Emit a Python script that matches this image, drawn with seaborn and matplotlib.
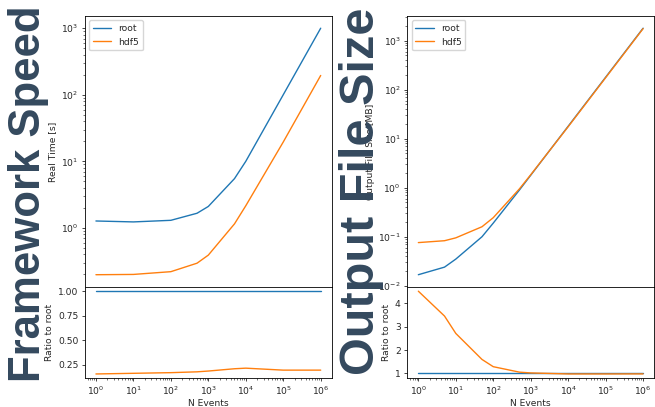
import numpy as np
import pandas as pd
import matplotlib
matplotlib.use("Agg")
import matplotlib.pyplot as plt
import seaborn as sns

# Event counts used for each benchmark
time_events = [1, 10, 100, 500, 1000, 5000, 10000, 100000, 1000000]
size_events = [1, 5, 10, 50, 100, 500, 1000, 10000, 100000, 1000000]

# Real time [s]
time_root = [1.27, 1.23, 1.30, 1.66, 2.1, 5.5, 10.0, 100.0, 1000.0]
time_hdf5 = [0.198, 0.20, 0.22, 0.295, 0.39, 1.15, 2.15, 19.5, 195.0]

# Output file size [MB]
size_root = [0.0168, 0.024, 0.035, 0.10, 0.19, 0.90, 1.80, 18.0, 180.0, 1800.0]
size_hdf5 = [0.076, 0.083, 0.095, 0.16, 0.245, 0.95, 1.84, 17.6, 176.0, 1765.0]

frameworks = ["root", "hdf5"]
titles = ["Framework Speed", "Output File Size"]
ylabels = ["Real Time [s]", "Output File Size [MB]"]


def long_form(events, root, hdf5):
    rows = []
    for n, r, h in zip(events, root, hdf5):
        rows.append({"N Events": n, "value": r, "ratio": 1.0, "framework": "root"})
        rows.append({"N Events": n, "value": h, "ratio": h / r, "framework": "hdf5"})
    return pd.DataFrame(rows)


frames = [long_form(time_events, time_root, time_hdf5),
          long_form(size_events, size_root, size_hdf5)]

sns.set_style("ticks")
plt.rcParams.update({
    "font.size": 6.6,
    "axes.labelsize": 6.6,
    "xtick.labelsize": 6.6,
    "ytick.labelsize": 6.6,
    "legend.fontsize": 6.6,
    "axes.linewidth": 0.6,
    "axes.edgecolor": "black",
    "xtick.major.size": 2.3,
    "ytick.major.size": 2.3,
    "xtick.minor.size": 1.3,
    "ytick.minor.size": 1.3,
    "xtick.major.width": 0.6,
    "ytick.major.width": 0.6,
    "xtick.minor.width": 0.45,
    "ytick.minor.width": 0.45,
    "lines.linewidth": 1.0,
    "axes.labelpad": 2.6,
    "xtick.major.pad": 2.3,
    "ytick.major.pad": 2.3,
})
plt.rcParams["font.family"] = ["DejaVu Sans"]

palette = {"root": "#1f77b4", "hdf5": "#ff7f0e"}

fig = plt.figure(figsize=(6.55, 4.07), dpi=100)
gs = fig.add_gridspec(2, 2, height_ratios=[271, 91], hspace=0, wspace=0.304,
                      left=0.1293, right=0.999, top=0.961, bottom=0.071)

for col, df in enumerate(frames):
    ax_top = fig.add_subplot(gs[0, col])
    ax_bot = fig.add_subplot(gs[1, col], sharex=ax_top)

    sns.lineplot(data=df, x="N Events", y="value", hue="framework",
                 hue_order=frameworks, palette=palette, ax=ax_top)
    ax_top.set_xscale("log")
    ax_top.set_yscale("log")
    ax_top.set_ylabel(ylabels[col])
    ax_top.set_xlabel("")
    ax_top.tick_params(axis="x", which="both", bottom=False, labelbottom=False)
    handles, labels = ax_top.get_legend_handles_labels()
    ax_top.legend(handles, labels, loc="upper left")

    sns.lineplot(data=df, x="N Events", y="ratio", hue="framework",
                 hue_order=frameworks, palette=palette, ax=ax_bot, legend=False)
    ax_bot.set_ylabel("Ratio to root")
    ax_bot.set_xlabel("N Events", labelpad=1.2)
    ax_bot.set_xticks([10.0 ** k for k in range(7)])

    for ax in (ax_top, ax_bot):
        for side in ("top", "right", "left", "bottom"):
            ax.spines[side].set_visible(True)

fig.text(0.0125, 0.523, titles[0], rotation=90, ha="left", va="center",
         fontsize=31.5, fontweight="bold", family="Liberation Sans",
         color="#34495e")
fig.text(0.517, 0.530, titles[1], rotation=90, ha="left", va="center",
         fontsize=35, fontweight="bold", family="Liberation Sans",
         color="#34495e")

fig.savefig("out.png", dpi=100)
